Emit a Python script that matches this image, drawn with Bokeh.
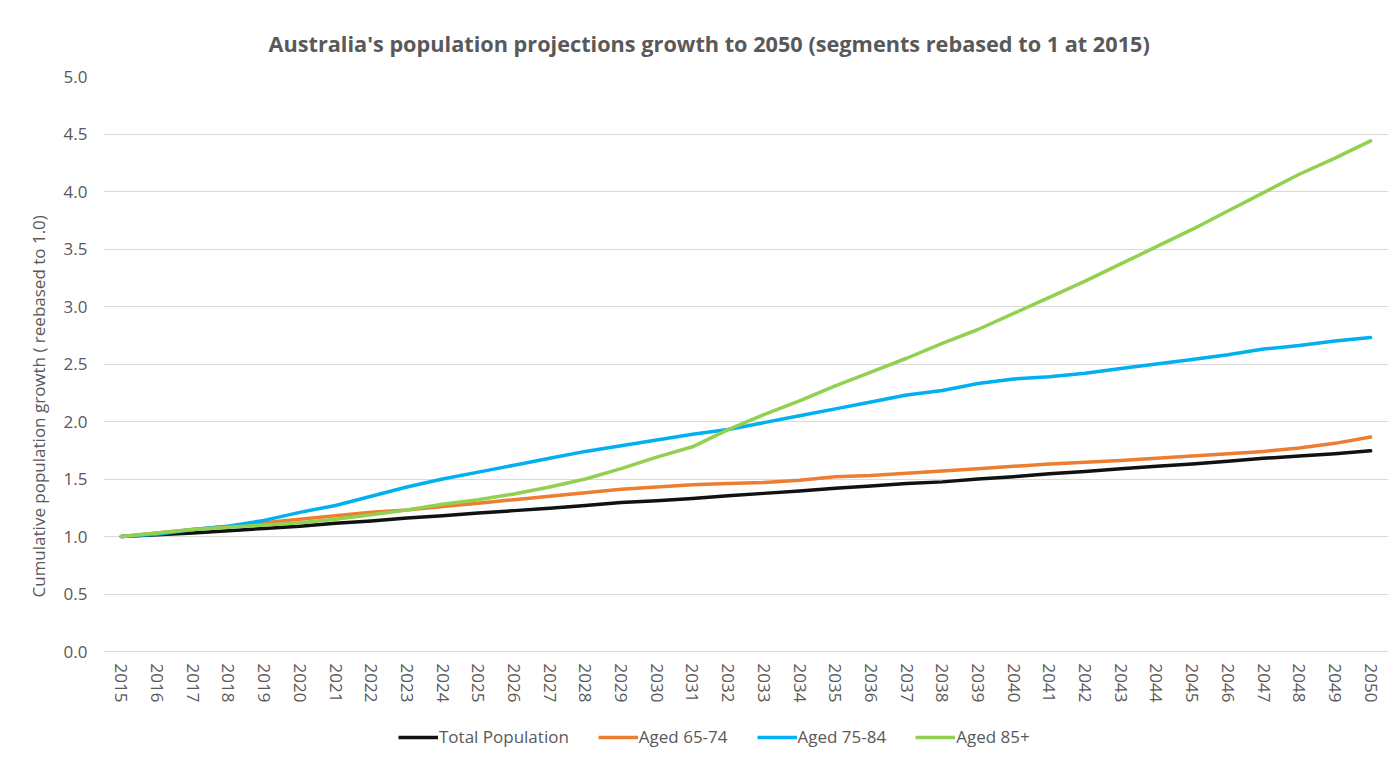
from bokeh.plotting import figure
from bokeh.layouts import column
from bokeh.models import (FactorRange, Range1d, FixedTicker, PrintfTickFormatter,
                          Legend, LegendItem, Title)
from bokeh.embed import file_html
from bokeh.resources import INLINE

# ---- data ----
years = [str(y) for y in range(2015, 2051)]

total_population = [1.00, 1.015, 1.03, 1.05, 1.07, 1.09, 1.115, 1.135, 1.16, 1.18,
                    1.205, 1.225, 1.245, 1.27, 1.295, 1.31, 1.33, 1.355, 1.375, 1.395,
                    1.42, 1.44, 1.46, 1.475, 1.50, 1.52, 1.545, 1.565, 1.59, 1.61,
                    1.63, 1.655, 1.68, 1.70, 1.72, 1.745]

aged_65_74 = [1.00, 1.03, 1.06, 1.09, 1.12, 1.15, 1.18, 1.21, 1.23, 1.26,
              1.29, 1.32, 1.35, 1.38, 1.41, 1.43, 1.45, 1.46, 1.47, 1.49,
              1.52, 1.53, 1.55, 1.57, 1.59, 1.61, 1.63, 1.645, 1.66, 1.68,
              1.70, 1.72, 1.74, 1.77, 1.81, 1.865]

aged_75_84 = [1.00, 1.02, 1.06, 1.09, 1.14, 1.21, 1.27, 1.35, 1.43, 1.50,
              1.56, 1.62, 1.68, 1.74, 1.79, 1.84, 1.89, 1.93, 1.99, 2.05,
              2.11, 2.17, 2.23, 2.27, 2.33, 2.37, 2.39, 2.42, 2.46, 2.50,
              2.54, 2.58, 2.63, 2.66, 2.70, 2.73]

aged_85_plus = [1.00, 1.03, 1.06, 1.08, 1.10, 1.12, 1.15, 1.19, 1.23, 1.28,
                1.32, 1.37, 1.43, 1.50, 1.59, 1.69, 1.78, 1.93, 2.06, 2.18,
                2.31, 2.43, 2.55, 2.68, 2.80, 2.94, 3.08, 3.22, 3.37, 3.52,
                3.67, 3.83, 3.99, 4.15, 4.29, 4.44]

series_names = ["Total Population", "Aged 65-74", "Aged 75-84", "Aged 85+"]
series_values = [total_population, aged_65_74, aged_75_84, aged_85_plus]
series_colors = ["#111111", "#ED7D31", "#00B0F0", "#92D050"]

y_ticks = [0.0, 0.5, 1.0, 1.5, 2.0, 2.5, 3.0, 3.5, 4.0, 4.5, 5.0]

title_text = "Australia's population projections growth to 2050 (segments rebased to 1 at 2015)"
y_label = "Cumulative population growth ( reebased to 1.0)"

FONT = "Open Sans"
TEXT_GRAY = "#595959"

p = figure(width=1388, height=720, output_backend="svg", toolbar_location=None,
           x_range=FactorRange(factors=years), y_range=Range1d(0, 5),
           min_border_left=103, min_border_right=0, min_border_top=76,
           min_border_bottom=69, title=title_text)

p.outline_line_color = None
p.background_fill_color = "white"

# title
p.title.text_font = FONT
p.title.text_font_size = "21.7px"
p.title.text_font_style = "bold"
p.title.text_color = TEXT_GRAY
p.title.align = "left"
p.title.offset = 165
p.title.standoff = 38

for name, vals, col in zip(series_names, series_values, series_colors):
    p.line(x=years, y=vals, line_color=col, line_width=3.5,
           line_join="round", line_cap="round")

# axes
yax = p.yaxis[0]
yax.ticker = FixedTicker(ticks=y_ticks)
yax.formatter = PrintfTickFormatter(format="%.1f")
yax.axis_line_color = None
yax.major_tick_line_color = None
yax.minor_tick_line_color = None
yax.major_tick_out = 0
yax.major_label_standoff = 16
yax.major_label_text_font = FONT
yax.major_label_text_font_size = "17px"
yax.major_label_text_color = TEXT_GRAY

ylab = Title(text=y_label, align="left", offset=54, standoff=22,
             text_font=FONT, text_font_size="17px", text_font_style="normal",
             text_color=TEXT_GRAY)
p.add_layout(ylab, "left")

xax = p.xaxis[0]
xax.axis_line_color = "#d9d9d9"
xax.major_tick_line_color = None
xax.minor_tick_line_color = None
xax.major_tick_out = 0
xax.major_label_standoff = 12
xax.major_label_orientation = "vertical"
xax.major_label_text_font = FONT
xax.major_label_text_font_size = "17px"
xax.major_label_text_color = TEXT_GRAY

p.xgrid.grid_line_color = None
p.ygrid.grid_line_color = "#d9d9d9"
p.ygrid.grid_line_width = 1

# legend strip below the chart (series drawn out of view, only the legend shows)
pl = figure(width=1388, height=34, output_backend="svg", toolbar_location=None,
            x_range=FactorRange(factors=years), y_range=Range1d(10, 11),
            x_axis_type=None, y_axis_type=None, min_border=0)
pl.outline_line_color = None
pl.xgrid.grid_line_color = None
pl.ygrid.grid_line_color = None
leg_items = []
for name, vals, col in zip(series_names, series_values, series_colors):
    r = pl.line(x=years, y=vals, line_color=col, line_width=3.5)
    leg_items.append(LegendItem(label=name, renderers=[r]))

legend = Legend(items=leg_items, orientation="horizontal", location=(295, 6))
legend.border_line_color = None
legend.background_fill_alpha = 0
legend.label_text_font = FONT
legend.label_text_font_size = "17px"
legend.label_text_color = TEXT_GRAY
legend.glyph_width = 40
legend.glyph_height = 20
legend.label_standoff = 1
legend.spacing = 29
legend.padding = 4
legend.margin = 0
pl.add_layout(legend, "center")

open("out.html", "w").write(file_html(column(p, pl, spacing=0), INLINE))
